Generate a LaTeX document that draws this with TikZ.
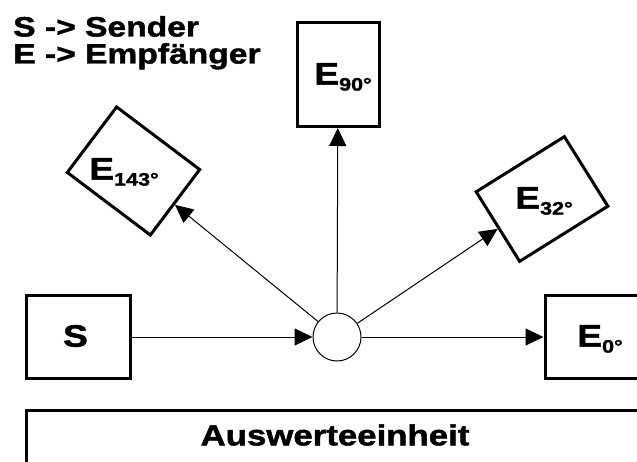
\documentclass[tikz,border=0pt]{standalone}
\usepackage{fontspec}
\setmainfont{Liberation Sans}[FakeStretch=1.2, BoldFeatures={FakeBold=1.6}]
\usetikzlibrary{arrows.meta}

% lowered angle subscript for the receiver labels
\newcommand\degsub[1]{\raisebox{-6pt}{\fontsize{18}{18}\selectfont #1°}}

\tikzset{
  unitbox/.style={draw, line width=3pt, minimum width=104pt, minimum height=82pt, inner sep=0pt},
  conn/.style={line width=1pt, -{Triangle[length=18pt,width=17pt]}},
  lbl/.style={inner sep=0pt, font=\fontsize{31}{31}\selectfont\bfseries},
  legend/.style={anchor=base west, inner sep=0pt, font=\fontsize{28}{28}\selectfont\bfseries},
}

\begin{document}
\begin{tikzpicture}[x=1pt, y=-1pt]
  \clip (0,0) rectangle (637,462);
  \fill[white] (0,0) rectangle (637,462);

  % legend
  \node[legend] (legS) at (13,36.5) {S -> Sender};
  \node[legend] (legE) at (13,63.5) {E -> Empfänger};

  % scattering point
  \node[circle, draw, line width=1pt, minimum size=48pt, inner sep=0pt] (hub) at (337,337) {};

  % sender
  \node[unitbox] (snd) at (78.5,337) {};
  \node[lbl] (sndl) at (75.5,336) {S};

  % receivers at the various angles
  \node[unitbox] (e0) at (597,337) {};
  \node[lbl] (e0l) at (600,339) {E\degsub{0}};

  \node[unitbox, rotate=32] (e32) at (542,199) {};
  \node[lbl] (e32l) at (544,201) {E\degsub{32}};

  \node[unitbox, rotate=90] (e90) at (338,74.5) {};
  \node[lbl] (e90l) at (343,77) {E\degsub{90}};

  \node[unitbox, rotate=143] (e143) at (133.5,171) {};
  \node[lbl] (e143l) at (124,172) {E\degsub{143}};

  % evaluation unit
  \node[draw, line width=3pt, minimum width=620pt, minimum height=100pt,
        anchor=north west, inner sep=0pt] (eval) at (25,409) {};
  \node[inner sep=0pt, font=\fontsize{29}{29}\selectfont\bfseries] (evall) at (335,435) {Auswerteeinheit};

  % signal paths
  \draw[conn] (snd) -- (hub);
  \draw[conn] (hub) -- (e0);
  \draw[conn] (hub) -- (e32);
  \draw[conn] (hub) -- (e90);
  \draw[conn] (hub) -- (e143);
\end{tikzpicture}
\end{document}
